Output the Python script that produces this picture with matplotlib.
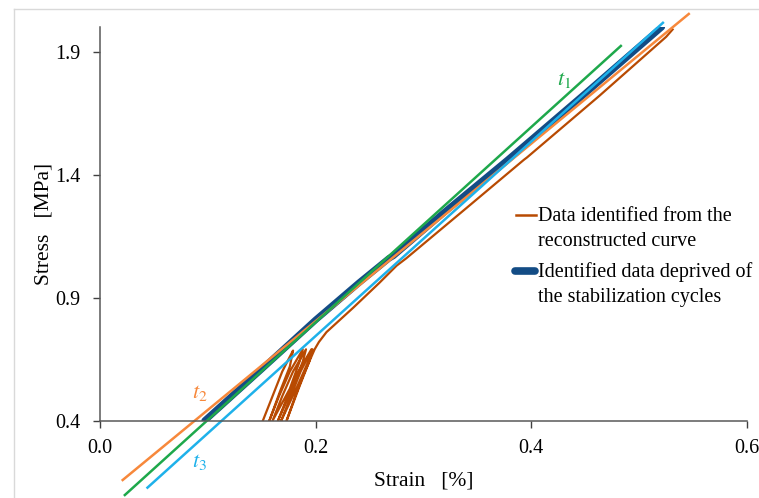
import matplotlib.pyplot as plt
from matplotlib.lines import Line2D

# reconstructed curve (with stabilization cycles), strain [%] / stress [MPa]
raw_strain = [0.151, 0.160, 0.169, 0.176, 0.179, 0.176, 0.167, 0.157,
              0.166, 0.176, 0.184, 0.188, 0.185, 0.176, 0.160,
              0.169, 0.179, 0.187, 0.191, 0.188, 0.179, 0.165,
              0.174, 0.184, 0.192, 0.196, 0.193, 0.183, 0.168,
              0.177, 0.186, 0.193, 0.197, 0.194, 0.185, 0.173,
              0.181, 0.189, 0.195, 0.199, 0.203, 0.210, 0.220, 0.235,
              0.259, 0.275, 0.281, 0.284, 0.340, 0.393, 0.396, 0.463,
              0.525, 0.531]
raw_stress = [0.40, 0.50, 0.60, 0.66, 0.685, 0.62, 0.52, 0.40,
              0.50, 0.60, 0.66, 0.69, 0.64, 0.53, 0.40,
              0.50, 0.60, 0.66, 0.69, 0.64, 0.54, 0.40,
              0.50, 0.60, 0.66, 0.69, 0.64, 0.54, 0.40,
              0.50, 0.60, 0.66, 0.69, 0.64, 0.54, 0.40,
              0.50, 0.59, 0.65, 0.69, 0.72, 0.76, 0.80, 0.86,
              0.96, 1.03, 1.05, 1.06, 1.265, 1.46, 1.47, 1.72,
              1.96, 1.99]

# identified data without stabilization cycles
clean_strain = [0.097, 0.150, 0.200, 0.240, 0.268, 0.272, 0.320, 0.378, 0.382, 0.450, 0.521]
clean_stress = [0.40, 0.61, 0.81, 0.96, 1.06, 1.07, 1.25, 1.46, 1.475, 1.73, 2.00]

# tangent lines
t1_strain, t1_stress = [0.023, 0.483], [0.098, 1.923]
t2_strain, t2_stress = [0.021, 0.546], [0.159, 2.053]
t3_strain, t3_stress = [0.044, 0.522], [0.128, 2.017]

raw_label = 'Data identified from the\nreconstructed curve'
clean_label = 'Identified data deprived of\nthe stabilization cycles'

plt.rcParams['font.family'] = ['Liberation Serif', 'DejaVu Serif']
plt.rcParams['mathtext.fontset'] = 'stix'

fig = plt.figure(figsize=(7.59, 4.98), dpi=100)
ax = fig.add_axes([0.1318, 0.1552, 0.8524, 0.7906])

c_brown = '#b84a02'
c_blue = '#134c85'
c_green = '#1ea84b'
c_orange = '#f7883b'
c_cyan = '#1eb1ea'

ax.plot(raw_strain, raw_stress, color=c_brown, lw=1.6)
ax.plot(clean_strain, clean_stress, color=c_blue, lw=4.8, solid_capstyle='round')
ax.plot(t2_strain, t2_stress, color=c_orange, lw=1.8, clip_on=False)
ax.plot(t1_strain, t1_stress, color=c_green, lw=1.8, clip_on=False)
ax.plot(t3_strain, t3_stress, color=c_cyan, lw=1.8, clip_on=False)

ax.text(0.43, 1.785, '$t_1$', color=c_green, fontsize=16, ha='center', va='center')
ax.text(0.0926, 0.512, '$t_2$', color=c_orange, fontsize=16, ha='center', va='center')
ax.text(0.0926, 0.232, '$t_3$', color=c_cyan, fontsize=16, ha='center', va='center')

# legend drawn by hand: handle sits on the first text line, like in the original
ax.plot([0.643, 0.674], [0.5225, 0.5225], transform=ax.transAxes, color=c_brown, lw=1.8, clip_on=False)
ax.text(0.677, 0.4438, raw_label, transform=ax.transAxes, fontsize=14.5, va='baseline',
        ha='left', linespacing=1.45)
ax.plot([0.641, 0.673], [0.3803, 0.3803], transform=ax.transAxes, color=c_blue, lw=5.5,
        solid_capstyle='round', clip_on=False)
ax.text(0.677, 0.3015, clean_label, transform=ax.transAxes, fontsize=14.5, va='baseline',
        ha='left', linespacing=1.45)

ax.set_xlim(0, 0.6)
ax.set_ylim(0.4, 2.0)
ax.set_xticks([0.0, 0.2, 0.4, 0.6])
ax.set_xticklabels(['0.0', '0.2', '0.4', '0.6'])
ax.set_yticks([0.4, 0.9, 1.4, 1.9])
ax.set_yticklabels(['0.4', '0.9', '1.4', '1.9'])
ax.tick_params(labelsize=14.5, length=5, width=1, color='#404040')
ax.tick_params(axis='y', pad=9)
ax.tick_params(axis='x', pad=8)
for s in ['top', 'right']:
    ax.spines[s].set_visible(False)
for s in ['left', 'bottom']:
    ax.spines[s].set_color('#595959')
    ax.spines[s].set_linewidth(1.1)

ax.set_xlabel('Strain   [%]', fontsize=15.5, labelpad=10)
ax.set_ylabel('Stress   [MPa]', fontsize=15.5, labelpad=1)

# thin grey frame of the picture
fig.add_artist(Line2D([14 / 759, 14 / 759], [0, 1 - 9 / 498], color='#d9d9d9', lw=1))
fig.add_artist(Line2D([14 / 759, 1], [1 - 9 / 498, 1 - 9 / 498], color='#d9d9d9', lw=1))

fig.savefig('out.png', dpi=100)
